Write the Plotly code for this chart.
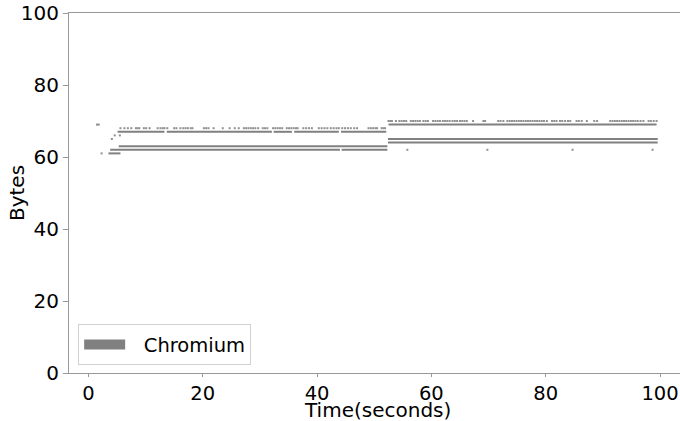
import plotly.graph_objects as go

# ---- data (seconds, bytes) ----
# continuous runs of observations: [start, end] in seconds for each byte level
runs_61 = [[3.5, 5.6]]
runs_62 = [[3.8, 44.0], [44.3, 52.3]]
runs_63 = [[5.3, 52.3]]
runs_67 = [[5.1, 13.3], [13.7, 32.1], [32.4, 35.6], [36.0, 43.8], [44.2, 52.1]]
runs_64 = [[52.4, 99.6]]
runs_65 = [[52.4, 99.6]]
runs_69 = [[52.5, 99.4]]

# sparse observations (times in seconds)
times_68 = [5.6, 6.3, 6.9, 7.5, 8.3, 8.6, 8.9, 9.7, 10.1, 10.7, 12.1, 12.6, 13.0, 13.3,
            13.8, 15.0, 15.4, 16.1, 16.6, 17.0, 17.4, 17.9, 18.2, 20.2, 20.6, 21.0, 21.9,
            23.5, 24.7, 25.6, 26.3, 27.2, 27.6, 28.0, 28.4, 28.8, 29.2, 29.7, 30.5, 30.9,
            31.3, 32.3, 32.7, 33.1, 33.5, 33.9, 34.7, 35.1, 35.5, 35.9, 36.3, 36.6, 37.6,
            38.1, 38.6, 39.1, 40.3, 40.8, 41.3, 41.8, 42.4, 42.9, 43.4, 43.8, 44.4, 44.9,
            45.4, 45.9, 46.5, 47.0, 49.0, 49.4, 49.8, 50.2, 50.5, 51.3, 51.6, 51.9]
times_70 = [52.5, 52.8, 53.1, 53.8, 54.4, 54.8, 55.2, 55.6, 56.4, 56.8, 57.2, 57.6, 58.0,
            58.6, 59.0, 59.4, 60.3, 60.7, 61.1, 61.5, 62.0, 62.4, 62.8, 63.2, 63.7, 64.1,
            64.5, 65.0, 65.4, 65.8, 66.2, 67.3, 69.1, 69.4, 71.7, 72.1, 72.6, 73.3, 73.7,
            74.1, 74.5, 74.9, 75.3, 75.7, 76.1, 76.5, 76.9, 77.3, 77.7, 78.1, 78.5, 78.9,
            79.3, 79.7, 80.2, 81.1, 81.5, 81.9, 82.5, 82.9, 83.4, 83.9, 84.3, 85.4, 85.8,
            86.3, 87.2, 88.5, 89.0, 91.3, 91.7, 92.1, 92.5, 92.9, 93.3, 93.7, 94.1, 94.5,
            94.9, 95.3, 95.7, 96.1, 96.6, 97.1, 98.0, 98.4, 98.9, 99.4]
# isolated single observations
single_t = [1.5, 1.8, 2.3, 4.1, 4.6, 5.5, 55.8, 69.8, 84.7, 98.7]
single_b = [69, 69, 61, 65, 66, 66, 62, 62, 62, 62]

series_name = "Chromium"
x_title = "Time(seconds)"
y_title = "Bytes"
x_ticks = [0, 20, 40, 60, 80, 100]
y_ticks = [0, 20, 40, 60, 80, 100]

GREY = "#808080"
FONT = "DejaVu Sans"

run_levels = [(61, runs_61), (62, runs_62), (63, runs_63), (67, runs_67),
              (64, runs_64), (65, runs_65), (69, runs_69)]
lx, ly = [], []
for lvl, runs in run_levels:
    for s, e in runs:
        lx += [s, e, None]
        ly += [lvl, lvl, None]

px = times_68 + times_70 + single_t
py = [68] * len(times_68) + [70] * len(times_70) + single_b

fig = go.Figure()
fig.add_trace(go.Scatter(x=lx, y=ly, mode="lines", line=dict(color=GREY, width=2),
                         showlegend=False, hoverinfo="skip"))
fig.add_trace(go.Scatter(x=px, y=py, mode="markers",
                         marker=dict(color="#909090", size=2, symbol="square", line=dict(width=0)),
                         showlegend=False, hoverinfo="skip"))
fig.add_trace(go.Scatter(x=[None], y=[None], mode="lines",
                         name="\u2002\u2009" + series_name,
                         line=dict(color=GREY, width=12)))

fig.update_layout(
    width=680, height=421,
    margin=dict(l=69, r=0, t=13, b=48),
    paper_bgcolor="white", plot_bgcolor="white",
    font=dict(family=FONT, color="black"),
    legend=dict(x=0.015, y=0.021, xanchor="left", yanchor="bottom",
                bgcolor="white", bordercolor="#d0d0d0", borderwidth=1,
                font=dict(size=19.5, family=FONT), itemwidth=41),
    xaxis=dict(range=[-3.4, 103.5], tickvals=x_ticks, showgrid=False, zeroline=False,
               showline=True, linecolor="#999999", linewidth=1, mirror=True,
               ticks="outside", ticklen=3, tickcolor="#999999",
               tickfont=dict(size=19.5, family=FONT)),
    yaxis=dict(range=[0, 100], tickvals=y_ticks, showgrid=False, zeroline=False,
               showline=True, linecolor="#999999", linewidth=1, mirror=False,
               ticks="outside", ticklen=5, tickcolor="#999999",
               tickfont=dict(size=20, family=FONT)),
    annotations=[
        dict(text=x_title, xref="paper", yref="paper", x=0.505, y=-0.103,
             xanchor="center", yanchor="middle", showarrow=False,
             font=dict(size=20, family=FONT, color="black")),
        dict(text=y_title, xref="paper", yref="paper", x=-0.085, y=0.5,
             xanchor="center", yanchor="middle", textangle=-90, showarrow=False,
             font=dict(size=20, family=FONT, color="black")),
    ],
)

fig.write_html("out.html")
